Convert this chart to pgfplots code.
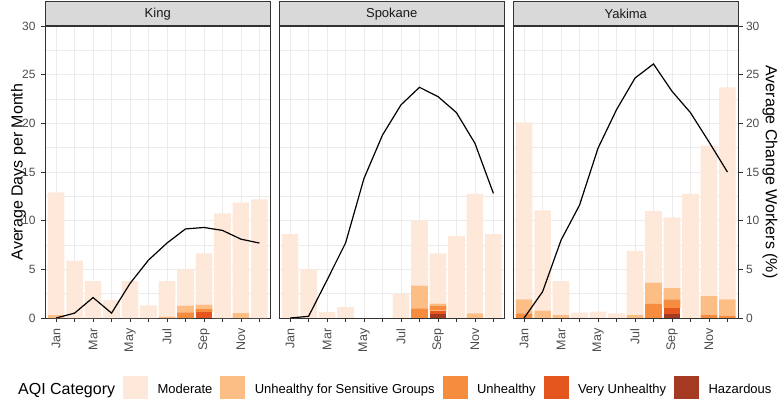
\documentclass[border=0pt]{standalone}
\usepackage{fontspec}
\setmainfont{Liberation Sans}
\usepackage{pgfplots}
\usepackage{pgfplotstable}
\pgfplotsset{compat=1.18}

\definecolor{cMod}{HTML}{FDE8DA}
\definecolor{cUSG}{HTML}{FDBE85}
\definecolor{cU}{HTML}{F68D3E}
\definecolor{cVU}{HTML}{E5561F}
\definecolor{cHaz}{HTML}{A43A22}
\definecolor{gridc}{HTML}{EBEBEB}
\definecolor{bordc}{HTML}{333333}
\definecolor{stripc}{HTML}{D9D9D9}
\definecolor{tickc}{HTML}{4D4D4D}

\pgfplotstableread{
m haz vu unh usg mod line
1 0 0 0 0.30 12.60 0.0
2 0 0 0 0 5.90 0.5
3 0 0 0 0 3.80 2.1
4 0 0 0 0 1.85 0.5
5 0 0 0 0 3.80 3.55
6 0 0 0 0 1.30 5.95
7 0 0 0 0.15 3.65 7.7
8 0 0 0.58 0.69 3.73 9.15
9 0 0.58 0.34 0.45 5.28 9.3
10 0 0 0 0 10.75 9.0
11 0 0 0 0.50 11.35 8.1
12 0 0 0 0 12.20 7.7
}\king

\pgfplotstableread{
m haz vu unh usg mod line
1 0 0 0 0 8.63 0.0
2 0 0 0 0 5.00 0.17
3 0 0 0 0 0.62 3.9
4 0 0 0 0 1.13 7.7
5 0 0 0 0 0 14.35
6 0 0 0 0 0 18.8
7 0 0 0 0 2.54 21.9
8 0 0 1.00 2.32 6.72 23.7
9 0.38 0.38 0.48 0.24 5.17 22.75
10 0 0 0 0 8.43 21.1
11 0 0 0 0.48 12.26 17.95
12 0 0 0 0 8.63 12.8
}\spokane

\pgfplotstableread{
m haz vu unh usg mod line
1 0 0 0.48 1.44 18.18 0.0
2 0 0 0 0.75 10.30 2.7
3 0 0 0 0.30 3.50 8.0
4 0 0 0 0 0.55 11.6
5 0 0 0 0 0.65 17.45
6 0 0 0 0 0.48 21.4
7 0 0 0 0.30 6.60 24.65
8 0 0 1.44 2.19 7.34 26.1
9 0.38 0.62 0.92 1.16 7.27 23.3
10 0 0 0 0 12.75 21.1
11 0 0 0.34 1.92 15.44 18.1
12 0 0 0.24 1.68 21.78 15.0
}\yakima

\pgfplotsset{
  panel/.style={
    scale only axis, width=225.5bp, height=292bp,
    xmin=0.4, xmax=12.6, ymin=0, ymax=30,
    /pgf/number format/assume math mode=true,
    tick label style={font=\fontsize{12bp}{14bp}\selectfont, text=tickc},
  },
  main/.style={panel,
    ybar stacked, bar width=0.9, clip=false,
    xtick={1,...,12}, xticklabels={Jan,,Mar,,May,,Jul,,Sep,,Nov,},
    x tick label style={rotate=90, anchor=east, font=\fontsize{12.5bp}{14bp}\selectfont},
    xticklabel shift=3bp, yticklabel shift=2bp,
    ytick={0,5,...,30}, minor ytick={2.5,7.5,...,27.5},
    xtick pos=lower, ytick pos=left,
    grid=both,
    major grid style={gridc, line width=0.6bp},
    minor grid style={gridc, line width=0.4bp},
    axis line style={bordc, line width=0.7bp},
    tick style={bordc, line width=0.7bp},
    tick align=outside, major tick length=4bp, minor tick length=0pt,
    every axis title shift=0pt,
    title style={at={(axis description cs:0.5,1)}, anchor=south, fill=stripc, draw=bordc, line width=0.7bp,
      minimum width=225.5bp, minimum height=24bp, inner sep=0pt, yshift=0pt,
      font=\fontsize{13bp}{15bp}\selectfont, text={black!90}},
  },
  ovl/.style={panel, hide axis},
  sqleg/.style={legend image code/.code={\fill[#1] (0bp,-8bp) rectangle (24bp,14bp);}},
}

\newcommand{\bars}[1]{%
  \addplot[fill=cHaz, draw=none, forget plot] table[x=m, y=haz]{#1};
  \addplot[fill=cVU, draw=none, forget plot] table[x=m, y=vu]{#1};
  \addplot[fill=cU, draw=none, forget plot] table[x=m, y=unh]{#1};
  \addplot[fill=cUSG, draw=none, forget plot] table[x=m, y=usg]{#1};
  \addplot[fill=cMod, draw=none, forget plot] table[x=m, y=mod]{#1};
}

\begin{document}
\begin{tikzpicture}
\path[use as bounding box] (0,0) rectangle (780bp,402bp);

% King
\begin{axis}[main, at={(45bp,84bp)}, anchor=south west, title={King},
  ylabel={Average Days per Month},
  every axis y label/.style={at={(axis description cs:-0.1175,0.5)}, rotate=90, anchor=center, font=\fontsize{16bp}{18bp}\selectfont},
  legend columns=-1,
  legend style={at={(axis description cs:-0.1641,-0.2363)}, anchor=west, draw=none, fill=none,
    inner sep=0pt, font=\fontsize{13bp}{15bp}\selectfont,
    /tikz/every odd column/.style={column sep=8bp},
    /tikz/every even column/.style={column sep=6bp}},
  legend cell align=left,
]
\bars{\king}
\addlegendimage{empty legend}\addlegendentry{\fontsize{16bp}{18bp}\selectfont AQI Category}
\addlegendimage{sqleg=cMod}\addlegendentry{Moderate}
\addlegendimage{sqleg=cUSG}\addlegendentry{Unhealthy for Sensitive Groups}
\addlegendimage{sqleg=cU}\addlegendentry{Unhealthy}
\addlegendimage{sqleg=cVU}\addlegendentry{Very Unhealthy}
\addlegendimage{sqleg=cHaz}\addlegendentry{Hazardous}
\end{axis}
\begin{axis}[ovl, at={(45bp,84bp)}, anchor=south west]
\addplot[black, line width=1.2bp, mark=none] table[x=m, y=line]{\king};
\end{axis}

% Spokane
\begin{axis}[main, at={(279bp,84bp)}, anchor=south west, title={Spokane},
  yticklabel style={opacity=0, text opacity=0}, y tick style={draw=none}]
\bars{\spokane}
\end{axis}
\begin{axis}[ovl, at={(279bp,84bp)}, anchor=south west]
\addplot[black, line width=1.2bp, mark=none] table[x=m, y=line]{\spokane};
\end{axis}

% Yakima
\begin{axis}[main, at={(513bp,84bp)}, anchor=south west, title={Yakima},
  yticklabel style={opacity=0, text opacity=0}, y tick style={draw=none}]
\bars{\yakima}
\end{axis}
\begin{axis}[panel, at={(513bp,84bp)}, anchor=south west,
  axis x line=none, axis y line*=right,
  ytick={0,5,...,30},
  axis line style={bordc, line width=0.7bp},
  tick style={bordc, line width=0.7bp},
  tick align=outside, major tick length=4bp,
  ylabel={Average Change Workers (\%)},
  every axis y label/.style={at={(axis description cs:1.1397,0.5)}, rotate=-90, anchor=center, font=\fontsize{16bp}{18bp}\selectfont},
]
\addplot[black, line width=1.2bp, mark=none] table[x=m, y=line]{\yakima};
\end{axis}
\end{tikzpicture}
\end{document}
